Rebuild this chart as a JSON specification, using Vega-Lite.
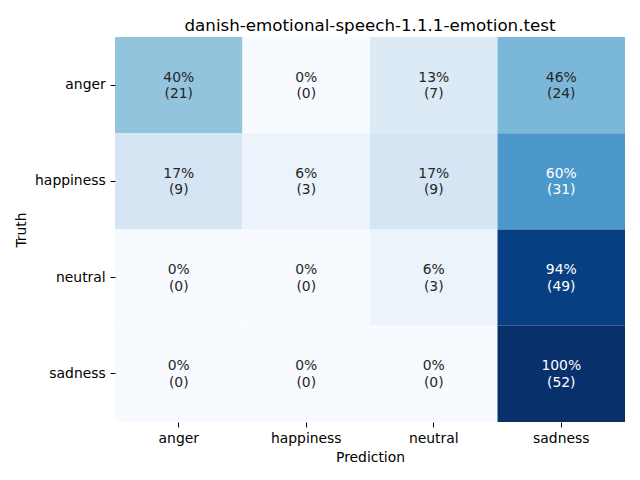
{
  "$schema": "https://vega.github.io/schema/vega-lite/v6.json",
  "width": 510,
  "height": 385,
  "autosize": {"type": "none"},
  "padding": {"left": 115, "top": 37, "right": 15, "bottom": 58},
  "background": "white",
  "title": {"text": "danish-emotional-speech-1.1.1-emotion.test", "fontSize": 16.7, "font": "DejaVu Sans", "fontWeight": "normal", "color": "#000000", "anchor": "middle", "offset": 2},
  "config": {
    "view": {"stroke": null},
    "font": "DejaVu Sans",
    "axis": {"domain": false, "grid": false, "ticks": true, "tickColor": "#000000", "tickSize": 4.9, "tickWidth": 1, "labelFontSize": 13.9, "labelColor": "#000000", "labelFont": "DejaVu Sans", "titleFont": "DejaVu Sans", "titleFontSize": 13.9, "titleFontWeight": "normal", "titleColor": "#000000", "labelPadding": 4.9}
  },
  "data": {
    "values": [
      {"truth": "anger", "pred": "anger", "pct": 40.4, "label": "40%\n(21)"},
      {"truth": "anger", "pred": "happiness", "pct": 0, "label": "0%\n(0)"},
      {"truth": "anger", "pred": "neutral", "pct": 13.5, "label": "13%\n(7)"},
      {"truth": "anger", "pred": "sadness", "pct": 46.2, "label": "46%\n(24)"},
      {"truth": "happiness", "pred": "anger", "pct": 17.3, "label": "17%\n(9)"},
      {"truth": "happiness", "pred": "happiness", "pct": 5.8, "label": "6%\n(3)"},
      {"truth": "happiness", "pred": "neutral", "pct": 17.3, "label": "17%\n(9)"},
      {"truth": "happiness", "pred": "sadness", "pct": 59.6, "label": "60%\n(31)"},
      {"truth": "neutral", "pred": "anger", "pct": 0, "label": "0%\n(0)"},
      {"truth": "neutral", "pred": "happiness", "pct": 0, "label": "0%\n(0)"},
      {"truth": "neutral", "pred": "neutral", "pct": 5.8, "label": "6%\n(3)"},
      {"truth": "neutral", "pred": "sadness", "pct": 94.2, "label": "94%\n(49)"},
      {"truth": "sadness", "pred": "anger", "pct": 0, "label": "0%\n(0)"},
      {"truth": "sadness", "pred": "happiness", "pct": 0, "label": "0%\n(0)"},
      {"truth": "sadness", "pred": "neutral", "pct": 0, "label": "0%\n(0)"},
      {"truth": "sadness", "pred": "sadness", "pct": 100, "label": "100%\n(52)"}
    ]
  },
  "encoding": {
    "x": {"field": "pred", "type": "nominal", "sort": ["anger", "happiness", "neutral", "sadness"], "scale": {"paddingInner": 0, "paddingOuter": 0}, "axis": {"title": "Prediction", "labelAngle": 0, "titlePadding": 5}},
    "y": {"field": "truth", "type": "nominal", "sort": ["anger", "happiness", "neutral", "sadness"], "scale": {"paddingInner": 0, "paddingOuter": 0}, "axis": {"title": "Truth", "titlePadding": 6}}
  },
  "layer": [
    {
      "mark": {"type": "rect"},
      "encoding": {
        "color": {"field": "pct", "type": "quantitative", "legend": null, "scale": {"domain": [0, 12.5, 25, 37.5, 50, 62.5, 75, 87.5, 100], "range": ["#f7fbff", "#deebf7", "#c6dbef", "#9ecae1", "#6baed6", "#4292c6", "#2171b5", "#08519c", "#08306b"], "interpolate": "rgb"}}
      }
    },
    {
      "mark": {"type": "text", "fontSize": 13.9, "font": "DejaVu Sans", "lineBreak": "\n", "lineHeight": 16.5, "baseline": "middle", "align": "center", "dy": -7.5},
      "encoding": {
        "text": {"field": "label"},
        "color": {"condition": {"test": "datum.pct > 55", "value": "#ffffff"}, "value": "#262626"}
      }
    }
  ]
}
